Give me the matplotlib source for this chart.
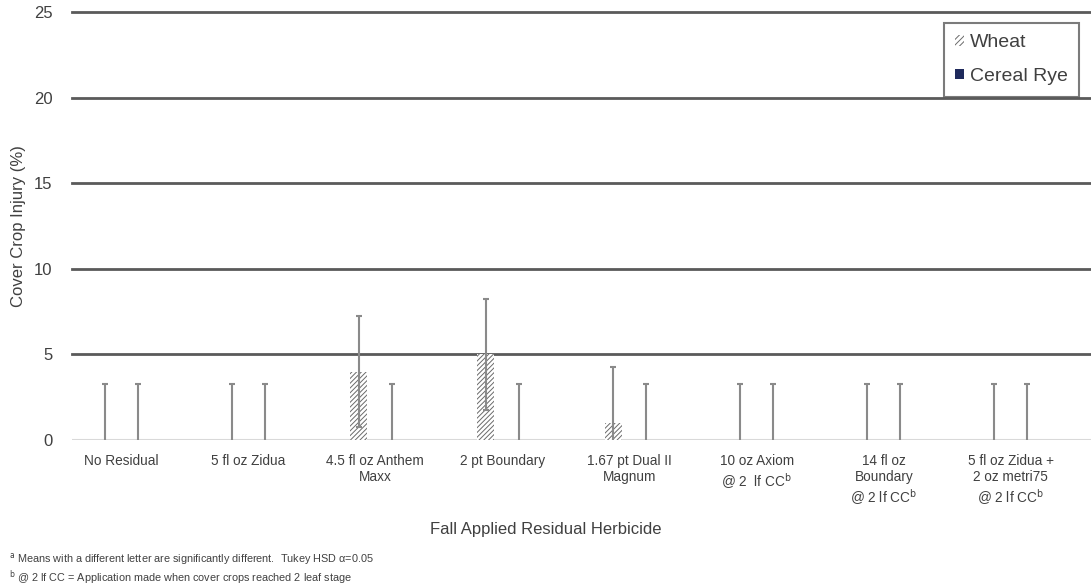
import matplotlib.pyplot as plt
import numpy as np
from matplotlib.patches import Patch

plt.rcParams["hatch.linewidth"] = 0.7

categories = [
    "No Residual",
    "5 fl oz Zidua",
    "4.5 fl oz Anthem\nMaxx",
    "2 pt Boundary",
    "1.67 pt Dual II\nMagnum",
    "10 oz Axiom\n@ 2  lf CC$^{\\mathrm{b}}$",
    "14 fl oz\nBoundary\n@ 2 lf CC$^{\\mathrm{b}}$",
    "5 fl oz Zidua +\n2 oz metri75\n@ 2 lf CC$^{\\mathrm{b}}$",
]
wheat = [0, 0, 4, 5, 1, 0, 0, 0]
cereal_rye = [0, 0, 0, 0, 0, 0, 0, 0]
wheat_err = [3.25] * 8
rye_err = [3.25] * 8

TEXT = "#404040"
SANS = ["Liberation Sans", "DejaVu Sans"]

fig = plt.figure(figsize=(10.91, 5.86), dpi=100)
ax = fig.add_axes([0.066, 0.249, 0.934, 0.7305])

x = np.arange(len(categories))
w = 0.134
off = 0.13

ax.bar(x - off, wheat, w, color="white", edgecolor="#6a6a6a", hatch="///////",
       linewidth=0, zorder=3, label="Wheat")
ax.bar(x + off, cereal_rye, w, color="#1f2a5c", linewidth=0, zorder=3,
       label="Cereal Rye")
ax.errorbar(x - off, wheat, yerr=wheat_err, fmt="none", ecolor="#8a8a8a",
            elinewidth=1.5, capsize=2.5, capthick=1.5, zorder=4)
ax.errorbar(x + off, cereal_rye, yerr=rye_err, fmt="none", ecolor="#8a8a8a",
            elinewidth=1.5, capsize=2.5, capthick=1.5, zorder=4)

ax.set_ylim(0, 25)
ax.set_xlim(-0.386, 7.63)
ax.set_yticks([0, 5, 10, 15, 20, 25])
for yv in [5, 10, 15, 20, 25]:
    ax.axhline(yv, color="#5a5a5a", lw=2, zorder=1, clip_on=False)
ax.axhline(0, color="#d9d9d9", lw=1.5, zorder=2)

for s in ax.spines.values():
    s.set_visible(False)
ax.tick_params(axis="both", length=0)
ax.tick_params(axis="y", pad=14)
ax.set_yticklabels([str(v) for v in [0, 5, 10, 15, 20, 25]], fontsize=12,
                   color=TEXT, family=SANS)
ax.set_xticks(x)
ax.set_xticklabels(categories, fontsize=9.8, color=TEXT, family=SANS,
                   linespacing=1.2, va="top")
ax.tick_params(axis="x", pad=10)

ax.set_ylabel("Cover Crop Injury (%)", fontsize=12, color=TEXT, family=SANS,
              labelpad=6)
fig.text(0.5, 0.089, "Fall Applied Residual Herbicide", ha="center",
         fontsize=12, color=TEXT, family=SANS)

fig.text(0.008, 0.04, "$^{\\mathrm{a}}$ Means with a different letter are significantly different.  Tukey HSD \u03b1=0.05",
         fontsize=7.8, color=TEXT, family=SANS)
fig.text(0.008, 0.008, "$^{\\mathrm{b}}$ @ 2 lf CC = Application made when cover crops reached 2 leaf stage",
         fontsize=7.8, color=TEXT, family=SANS)

handles = [
    Patch(facecolor="white", edgecolor="#6a6a6a", hatch="//////", linewidth=0),
    Patch(facecolor="#1f2a5c", linewidth=0),
]
leg = ax.legend(handles, ["Wheat", "Cereal Rye"], loc="upper right",
                bbox_to_anchor=(0.9887, 0.975), frameon=True, fancybox=False,
                edgecolor="#5a5a5a", handlelength=0.45, handleheight=0.45,
                handletextpad=0.3, labelspacing=0.85, borderpad=0.6,
                borderaxespad=0, prop={"family": SANS, "size": 14})
leg.get_frame().set_linewidth(1.5)
leg.set_zorder(10)
for t in leg.get_texts():
    t.set_color(TEXT)

fig.savefig("out.png", dpi=100)
